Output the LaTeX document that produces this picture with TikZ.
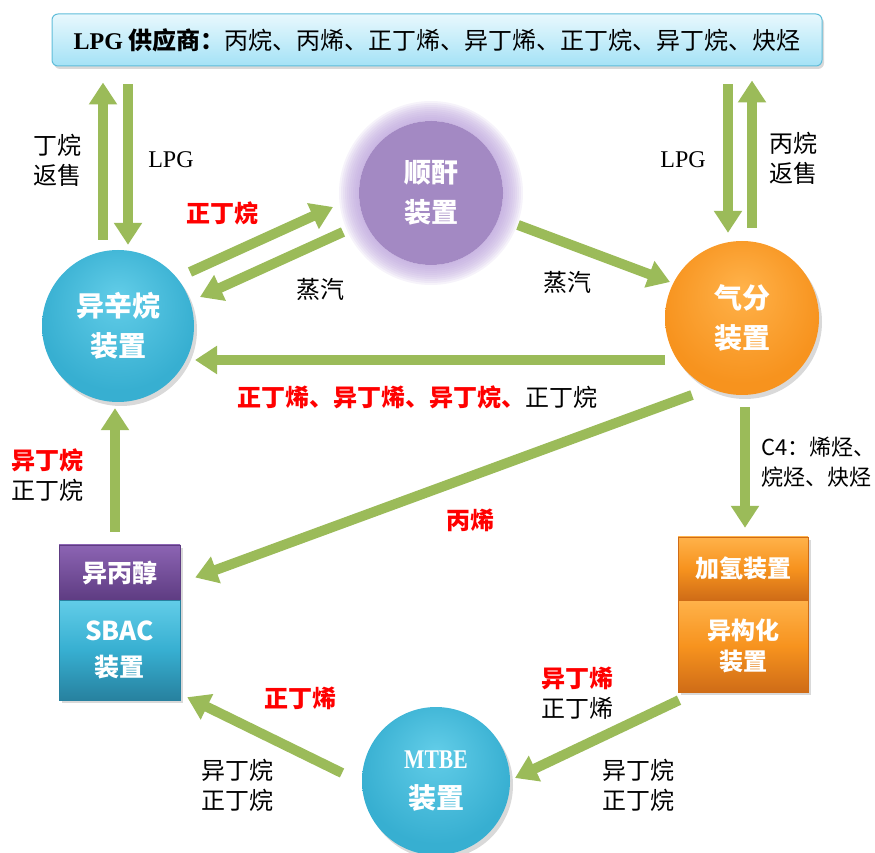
\documentclass[tikz,border=0pt]{standalone}
\usepackage{fontspec}
\setmainfont{Noto Sans CJK SC}
\newfontfamily\tnr{Liberation Serif}
\newfontfamily\tnrc[FakeStretch=0.8]{Liberation Serif}
\usepackage{tikz}
\usetikzlibrary{arrows.meta,calc,shadows}

\definecolor{flowgreen}{HTML}{9BBB59}
\definecolor{tealL}{HTML}{62CDE8}
\definecolor{tealM}{HTML}{37AFD1}
\definecolor{tealD}{HTML}{27819F}
\definecolor{orangeL}{HTML}{FFB24A}
\definecolor{orangeM}{HTML}{F7931E}
\definecolor{orangeD}{HTML}{CF6C17}
\definecolor{purpleM}{HTML}{A389C3}
\definecolor{glowc}{HTML}{B9A0DA}
\definecolor{ipaL}{HTML}{8C64B3}
\definecolor{ipaD}{HTML}{5E3C82}
\definecolor{supL}{HTML}{E8F8FD}
\definecolor{supD}{HTML}{A4E2F6}
\definecolor{supB}{HTML}{5FBDD9}

\pgfdeclareradialshading{tealball}{\pgfpoint{0bp}{10bp}}{color(0bp)=(tealL); color(26bp)=(tealM); color(44bp)=(tealM); color(50bp)=(tealD)}
\pgfdeclareradialshading{orangeball}{\pgfpoint{0bp}{10bp}}{color(0bp)=(orangeL); color(26bp)=(orangeM); color(44bp)=(orangeM); color(50bp)=(orangeD)}

\tikzset{
  flow/.style={line width=10pt, draw=flowgreen, -{Triangle[length=22pt,width=27pt]}},
  lbl/.style={font=\fontsize{24}{30}\selectfont, align=center, inner sep=0pt},
  hot/.style={lbl, text=red, font=\fontsize{24}{30}\selectfont\bfseries},
  unit/.style={circle, shade, text=white, align=center, inner sep=0pt,
    font=\fontsize{28}{40}\selectfont\bfseries,
    drop shadow={opacity=0.3, shadow xshift=3pt, shadow yshift=-4pt}},
  block/.style={rectangle, text=white, align=center, inner sep=0pt,
    font=\fontsize{25}{36}\selectfont\bfseries,
    drop shadow={opacity=0.3, shadow xshift=3pt, shadow yshift=-3pt}},
  supply/.style={rectangle, rounded corners=6pt, draw=supB, line width=1pt,
    top color=supL, bottom color=supD, minimum width=770pt, minimum height=52pt,
    font=\fontsize{24}{30}\selectfont,
    drop shadow={opacity=0.3, shadow xshift=2pt, shadow yshift=-3pt}}
}

\begin{document}
\begin{tikzpicture}[x=1pt,y=1pt]
\useasboundingbox (0,0) rectangle (875,852);

\node[supply] (top) at (437,812) {{\bfseries{\tnr LPG} 供应商：}丙烷、丙烯、正丁烯、异丁烯、正丁烷、异丁烷、炔烃};

% units
\node[circle, fill=purpleM, text=white, align=center, inner sep=0pt, minimum size=144pt,
  font=\fontsize{27}{40}\selectfont\bfseries] (mah) at (431,659) {顺酐\\装置};
\foreach \r in {74,76,...,92}
  \fill[glowc, opacity=0.13, even odd rule] (mah.center) circle (\r) circle (72);
\node[unit, shading=tealball, minimum size=152pt] (iso) at (118,526) {异辛烷\\装置};
\node[unit, shading=orangeball, minimum size=154pt] (gas) at (742,534) {气分\\装置};
\node[unit, shading=tealball, minimum size=148pt] (mtbe) at (436,71) {{\tnrc\bfseries\fontsize{27}{40}\selectfont MTBE}\\装置};

\node[block, top color=ipaL, bottom color=ipaD, draw=ipaD, minimum width=121pt, minimum height=55pt] (ipa) at (119.5,279.5) {异丙醇};
\node[block, top color=tealL, bottom color=tealD, middle color=tealM, draw=tealD, minimum width=121pt, minimum height=100pt] (sbac) at (119.5,202) {{\fontsize{26}{36}\selectfont SBAC}\\装置};
\node[block, top color=orangeL, bottom color=orangeD, middle color=orangeM, draw=orangeD, minimum width=130pt, minimum height=63pt, font=\fontsize{24}{31}\selectfont\bfseries] (hyd) at (743,283.5) {加氢装置};
\node[block, top color=orangeL, bottom color=orangeD, middle color=orangeM, draw=orangeD, minimum width=130pt, minimum height=92pt, font=\fontsize{24}{31}\selectfont\bfseries] (isom) at (743,206) {异构化\\装置};

% flows
\draw[flow] ($(iso.north)+(-15,10)$) -- ($(iso.north |- top.south)+(-15,-16)$);
\draw[flow] ($(iso.north |- top.south)+(10,-18)$) -- ($(iso.north)+(10,5)$);
\draw[flow] ($(gas.north |- top.south)+(-14,-18)$) -- ($(gas.north)+(-14,8)$);
\draw[flow] ($(gas.north)+(10,13)$) -- ($(gas.north |- top.south)+(10,-14)$);
\draw[flow] ($(iso)+(72,54)$) -- ($(mah)+(-98,-14)$);
\draw[flow] ($(mah)+(-88,-39)$) -- ($(iso)+(82,29)$);
\draw[flow] ($(mah)+(87,-32)$) -- ($(gas)+(-72,36)$);
\draw[flow] ($(gas)+(-77,-42)$) -- ($(iso)+(77,-34)$);
\draw[flow] ($(gas)+(-50,-77)$) -- ($(ipa.east)+(15,-5)$);
\draw[flow] ($(gas.south)+(3,-12)$) -- ($(hyd.north)+(2,9)$);
\draw[flow] ($(ipa.north)+(-4.5,13)$) -- ($(iso.south)+(-3,-6)$);
\draw[flow] ($(isom.south)+(-64,-8)$) -- ($(mtbe)+(79,3)$);
\draw[flow] ($(mtbe)+(-94,8)$) -- ($(sbac.south east)+(7,3)$);

% labels
\node[lbl] (sellL) at (57,692) {丁烷\\返售};
\node[lbl, font=\fontsize{24}{30}\selectfont\tnr] (lpgL) at (171,692) {LPG};
\node[hot] (nbutA) at (222,639) {正丁烷};
\node[lbl] (steamL) at (320,563) {蒸汽};
\node[lbl] (steamR) at (567,570) {蒸汽};
\node[lbl, font=\fontsize{24}{30}\selectfont\tnr] (lpgR) at (683,692) {LPG};
\node[lbl] (sellR) at (793,694) {丙烷\\返售};
\node[lbl] (mixC4) at (417,455) {{\color{red}\bfseries 正丁烯、异丁烯、异丁烷、}正丁烷};
\node[lbl] (backSB) at (47,377) {{\color{red}\bfseries 异丁烷}\\正丁烷};
\node[hot] (prop) at (470,332) {丙烯};
\node[lbl, anchor=west, align=left, font=\fontsize{22}{30}\selectfont] (cfour) at (761,390) {C4：烯烃、\\烷烃、炔烃};
\node[hot] (nbutE) at (300,154) {正丁烯};
\node[lbl] (restL) at (237,67) {异丁烷\\正丁烷};
\node[lbl] (toMT) at (577,159) {{\color{red}\bfseries 异丁烯}\\正丁烯};
\node[lbl] (restR) at (638,67) {异丁烷\\正丁烷};
\end{tikzpicture}
\end{document}
